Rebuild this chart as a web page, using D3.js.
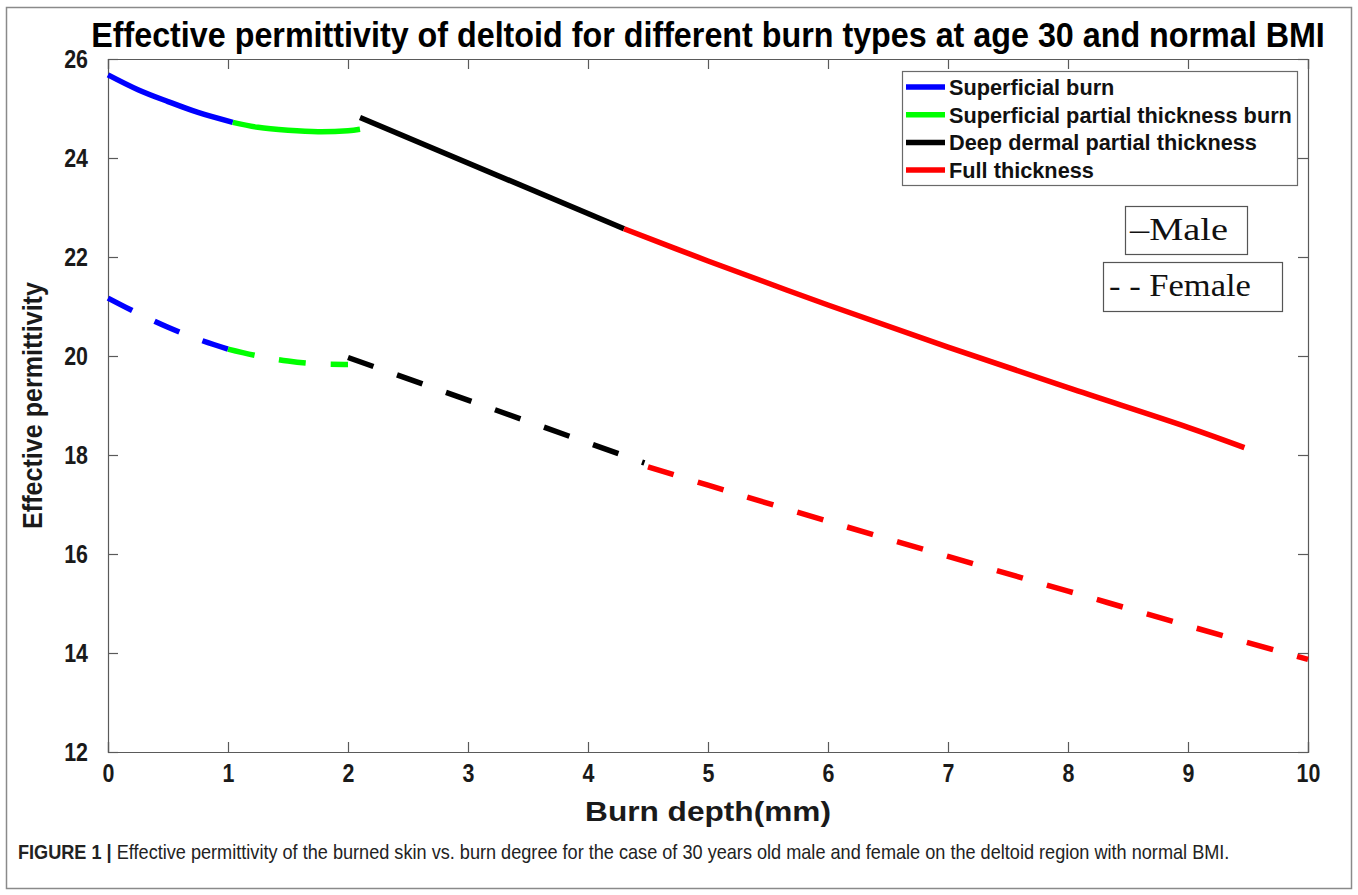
<!DOCTYPE html>
<html>
<head>
<meta charset="utf-8">
<script src="https://cdnjs.cloudflare.com/ajax/libs/d3/7.8.5/d3.min.js"></script>
<style>
  body { margin: 0; background: #fff; }
  text { font-family: "Liberation Sans", Arial, sans-serif; }
</style>
</head>
<body>
<div id="chart"></div>
<script>
// burn types (legend order) and colours
var burnTypes = ["Superficial burn", "Superficial partial thickness burn", "Deep dermal partial thickness", "Full thickness"];
var burnColors = ["#0000ff", "#00ff00", "#000000", "#ff0000"];

// male (solid) - depth in mm, effective permittivity
var maleDepth = [
  [0, 0.25, 0.5, 0.75, 1.04],
  [1.04, 1.25, 1.5, 1.75, 2.0, 2.1],
  [2.1, 4.3],
  [4.3, 5, 6, 7, 8, 9, 9.47]
];
var maleEps = [
  [25.68, 25.38, 25.14, 24.92, 24.72],
  [24.72, 24.62, 24.56, 24.53, 24.55, 24.58],
  [24.82, 22.57],
  [22.57, 21.92, 21.03, 20.18, 19.36, 18.56, 18.15]
];

// female (dashed)
var femaleDepth = [
  [0, 0.25, 0.5, 0.75, 1.0],
  [1.0, 1.25, 1.5, 1.75, 2.0],
  [2.0, 4.47],
  [4.5, 5, 6, 7, 8, 9, 10]
];
var femaleEps = [
  [21.17, 20.86, 20.58, 20.34, 20.14],
  [20.14, 20.0, 19.9, 19.84, 19.83],
  [19.97, 17.84],
  [17.76, 17.39, 16.66, 15.95, 15.25, 14.55, 13.87]
];

var xTicks = [0, 1, 2, 3, 4, 5, 6, 7, 8, 9, 10];
var yTicks = [12, 14, 16, 18, 20, 22, 24, 26];

var titleText = "Effective permittivity of deltoid for different burn types at age 30 and normal BMI";
var xLabel = "Burn depth(mm)";
var yLabel = "Effective permittivity";

var W = 1358, H = 895;
var margin = { top: 59, right: 50, bottom: 143, left: 108 };
var chartWidth = W - margin.left - margin.right;
var chartHeight = H - margin.top - margin.bottom;

var svgRoot = d3.select("#chart").append("svg")
  .attr("width", W)
  .attr("height", H);

// outer figure frame
svgRoot.append("rect")
  .attr("x", 6.5).attr("y", 7.5)
  .attr("width", 1345).attr("height", 881)
  .attr("fill", "none")
  .attr("stroke", "#8a8a8a")
  .attr("stroke-width", 1.5);

// the reference font is a narrow helvetica, so squeeze text horizontally
// to a target width while keeping the glyph height
function squeeze(sel, x, y, target, extra) {
  var w = sel.node().getComputedTextLength();
  sel.attr("x", 0).attr("y", 0)
    .attr("transform", "translate(" + x + "," + y + ")" + (extra || "") + " scale(" + (target / w) + ",1)");
}

var svg = svgRoot.append("g")
  .attr("transform", "translate(" + margin.left + "," + margin.top + ")");

var xScale = d3.scaleLinear().domain([0, 10]).range([0, chartWidth]);
var yScale = d3.scaleLinear().domain([12, 26]).range([chartHeight, 0]);

// axes, ticks point inward
var xAxis = d3.axisBottom(xScale).tickValues(xTicks).tickSize(-10).tickPadding(12);
var yAxis = d3.axisLeft(yScale).tickValues(yTicks).tickSize(-10).tickPadding(20);

var gx = svg.append("g")
  .attr("transform", "translate(0," + chartHeight + ")")
  .call(xAxis);
var gy = svg.append("g").call(yAxis);

svg.append("g")
  .call(d3.axisTop(xScale).tickValues(xTicks).tickSize(-10).tickFormat(""));
svg.append("g")
  .attr("transform", "translate(" + chartWidth + ",0)")
  .call(d3.axisRight(yScale).tickValues(yTicks).tickSize(-10).tickFormat(""));

svg.selectAll(".domain").attr("stroke", "#5a5a5a").attr("stroke-width", 1.2);
svg.selectAll(".tick line").attr("stroke", "#5a5a5a").attr("stroke-width", 1.2);
svg.selectAll(".tick text")
  .style("font-family", "'Liberation Sans', Arial, sans-serif")
  .style("font-size", "25.5px")
  .style("font-weight", "bold")
  .attr("fill", "#1a1a1a");

// narrow the tick numbers
gx.selectAll(".tick text").attr("transform", "scale(0.84,1)");
gy.selectAll(".tick text").each(function() {
  var t = d3.select(this);
  var x0 = +t.attr("x");
  t.attr("x", 0).attr("transform", "translate(" + x0 + ",0) scale(0.84,1)");
});

// lines
var line = d3.line()
  .x(function(d) { return xScale(d[0]); })
  .y(function(d) { return yScale(d[1]); })
  .curve(d3.curveCatmullRom.alpha(0.5));

function drawSet(depths, eps, dashed) {
  depths.forEach(function(xs, i) {
    var pts = xs.map(function(x, j) { return [x, eps[i][j]]; });
    svg.append("path")
      .datum(pts)
      .attr("d", line)
      .attr("fill", "none")
      .attr("stroke", burnColors[i])
      .attr("stroke-width", 5.5)
      .attr("stroke-dasharray", dashed ? "27,25" : null)
      .attr("stroke-linecap", "butt");
  });
}

drawSet(maleDepth, maleEps, false);
drawSet(femaleDepth, femaleEps, true);

// title
var title = svgRoot.append("text")
  .attr("text-anchor", "middle")
  .style("font-size", "35px")
  .style("font-weight", "bold")
  .text(titleText);
squeeze(title, 708, 47, 1234);

// axis labels
var xl = svgRoot.append("text")
  .attr("text-anchor", "middle")
  .style("font-size", "28px")
  .style("font-weight", "bold")
  .attr("fill", "#1a1a1a")
  .text(xLabel);
squeeze(xl, margin.left + chartWidth / 2, 821, 246);

var yl = svgRoot.append("text")
  .attr("text-anchor", "middle")
  .style("font-size", "28px")
  .style("font-weight", "bold")
  .attr("fill", "#1a1a1a")
  .text(yLabel);
squeeze(yl, 42, margin.top + chartHeight / 2, 247, " rotate(-90)");

// legend
var legend = svgRoot.append("g");
legend.append("rect")
  .attr("x", 902.5).attr("y", 71.5)
  .attr("width", 395).attr("height", 114)
  .attr("fill", "#fff")
  .attr("stroke", "#6a6a6a")
  .attr("stroke-width", 1.2);

var rows = legend.selectAll("g.row")
  .data(burnTypes)
  .enter()
  .append("g")
  .attr("class", "row")
  .attr("transform", function(d, i) { return "translate(0," + (87 + i * 27.7) + ")"; });

rows.append("line")
  .attr("x1", 906).attr("x2", 945)
  .attr("y1", 0).attr("y2", 0)
  .attr("stroke", function(d, i) { return burnColors[i]; })
  .attr("stroke-width", 5.5);

var legTexts = rows.append("text")
  .attr("x", 0)
  .attr("y", 0)
  .style("font-size", "22px")
  .style("font-weight", "bold")
  .attr("fill", "#111")
  .text(function(d) { return d; });

// squeeze all legend entries by the same factor as the longest one
var lw = legTexts.nodes()[1].getComputedTextLength();
legTexts.attr("transform", "translate(949,8) scale(" + (343 / lw) + ",1)");

// male / female boxes
var serif = "'Liberation Serif', 'DejaVu Serif', serif";
svgRoot.append("rect")
  .attr("x", 1125.5).attr("y", 206.5)
  .attr("width", 122).attr("height", 48)
  .attr("fill", "#fff").attr("stroke", "#555").attr("stroke-width", 1.2);
var mt = svgRoot.append("text")
  .style("font-family", serif)
  .style("font-size", "31px")
  .attr("fill", "#111")
  .text("\u2013Male");
squeeze(mt, 1130, 240, 98);

svgRoot.append("rect")
  .attr("x", 1103.5).attr("y", 262.5)
  .attr("width", 179).attr("height", 49)
  .attr("fill", "#fff").attr("stroke", "#555").attr("stroke-width", 1.2);
var ft = svgRoot.append("text")
  .style("font-family", serif)
  .style("font-size", "31px")
  .attr("fill", "#111")
  .text("- - Female");
squeeze(ft, 1109, 296, 142);

// caption
var cap = svgRoot.append("text")
  .style("font-size", "20px")
  .attr("fill", "#222");
cap.append("tspan").style("font-weight", "bold").text("FIGURE 1 | ");
cap.append("tspan").text("Effective permittivity of the burned skin vs. burn degree for the case of 30 years old male and female on the deltoid region with normal BMI.");
squeeze(cap, 18, 859, 1212);
</script>
</body>
</html>
